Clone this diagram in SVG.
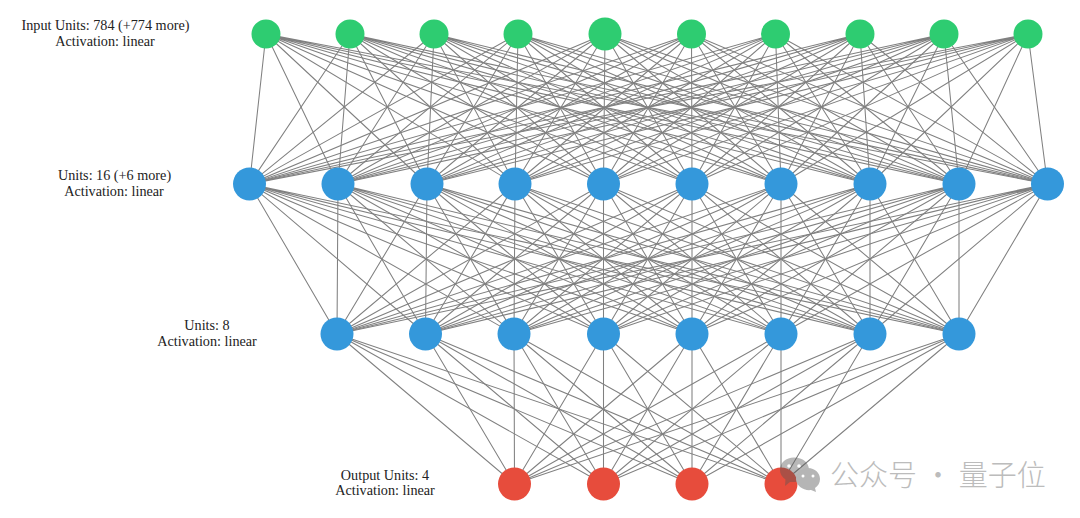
<svg xmlns="http://www.w3.org/2000/svg" width="1080" height="518" viewBox="0 0 1080 518">
<style>
.c path{fill:none;stroke:#808080;stroke-width:1.05}
.i{fill:#2ecc71}.h{fill:#3498db}.o{fill:#e74c3c}
text.l{font-family:"Liberation Serif","Times New Roman",serif;font-size:14.2px;fill:#222;text-anchor:middle}
text.w{font-family:"Noto Sans CJK SC",sans-serif;font-size:29px;font-weight:300;fill:#bcbcbc}
</style>
<rect width="1080" height="518" fill="#fff"/>
<g id="connectors" class="c">
<path d="M266 34L249.500 184M266 34L338 184M266 34L427 184M266 34L515 184M266 34L603.500 184M266 34L692 184M266 34L781 184M266 34L870 184M266 34L959 184M266 34L1047.500 184"/>
<path d="M350 34L249.500 184M350 34L338 184M350 34L427 184M350 34L515 184M350 34L603.500 184M350 34L692 184M350 34L781 184M350 34L870 184M350 34L959 184M350 34L1047.500 184"/>
<path d="M434 34L249.500 184M434 34L338 184M434 34L427 184M434 34L515 184M434 34L603.500 184M434 34L692 184M434 34L781 184M434 34L870 184M434 34L959 184M434 34L1047.500 184"/>
<path d="M518 34L249.500 184M518 34L338 184M518 34L427 184M518 34L515 184M518 34L603.500 184M518 34L692 184M518 34L781 184M518 34L870 184M518 34L959 184M518 34L1047.500 184"/>
<path d="M605 34L249.500 184M605 34L338 184M605 34L427 184M605 34L515 184M605 34L603.500 184M605 34L692 184M605 34L781 184M605 34L870 184M605 34L959 184M605 34L1047.500 184"/>
<path d="M691.500 34L249.500 184M691.500 34L338 184M691.500 34L427 184M691.500 34L515 184M691.500 34L603.500 184M691.500 34L692 184M691.500 34L781 184M691.500 34L870 184M691.500 34L959 184M691.500 34L1047.500 184"/>
<path d="M775.500 34L249.500 184M775.500 34L338 184M775.500 34L427 184M775.500 34L515 184M775.500 34L603.500 184M775.500 34L692 184M775.500 34L781 184M775.500 34L870 184M775.500 34L959 184M775.500 34L1047.500 184"/>
<path d="M860 34L249.500 184M860 34L338 184M860 34L427 184M860 34L515 184M860 34L603.500 184M860 34L692 184M860 34L781 184M860 34L870 184M860 34L959 184M860 34L1047.500 184"/>
<path d="M944 34L249.500 184M944 34L338 184M944 34L427 184M944 34L515 184M944 34L603.500 184M944 34L692 184M944 34L781 184M944 34L870 184M944 34L959 184M944 34L1047.500 184"/>
<path d="M1028 34L249.500 184M1028 34L338 184M1028 34L427 184M1028 34L515 184M1028 34L603.500 184M1028 34L692 184M1028 34L781 184M1028 34L870 184M1028 34L959 184M1028 34L1047.500 184"/>
<path d="M249.500 184L337 334M249.500 184L425.500 334M249.500 184L514 334M249.500 184L603.500 334M249.500 184L692 334M249.500 184L781 334M249.500 184L870 334M249.500 184L959 334"/>
<path d="M338 184L337 334M338 184L425.500 334M338 184L514 334M338 184L603.500 334M338 184L692 334M338 184L781 334M338 184L870 334M338 184L959 334"/>
<path d="M427 184L337 334M427 184L425.500 334M427 184L514 334M427 184L603.500 334M427 184L692 334M427 184L781 334M427 184L870 334M427 184L959 334"/>
<path d="M515 184L337 334M515 184L425.500 334M515 184L514 334M515 184L603.500 334M515 184L692 334M515 184L781 334M515 184L870 334M515 184L959 334"/>
<path d="M603.500 184L337 334M603.500 184L425.500 334M603.500 184L514 334M603.500 184L603.500 334M603.500 184L692 334M603.500 184L781 334M603.500 184L870 334M603.500 184L959 334"/>
<path d="M692 184L337 334M692 184L425.500 334M692 184L514 334M692 184L603.500 334M692 184L692 334M692 184L781 334M692 184L870 334M692 184L959 334"/>
<path d="M781 184L337 334M781 184L425.500 334M781 184L514 334M781 184L603.500 334M781 184L692 334M781 184L781 334M781 184L870 334M781 184L959 334"/>
<path d="M870 184L337 334M870 184L425.500 334M870 184L514 334M870 184L603.500 334M870 184L692 334M870 184L781 334M870 184L870 334M870 184L959 334"/>
<path d="M959 184L337 334M959 184L425.500 334M959 184L514 334M959 184L603.500 334M959 184L692 334M959 184L781 334M959 184L870 334M959 184L959 334"/>
<path d="M1047.500 184L337 334M1047.500 184L425.500 334M1047.500 184L514 334M1047.500 184L603.500 334M1047.500 184L692 334M1047.500 184L781 334M1047.500 184L870 334M1047.500 184L959 334"/>
<path d="M337 334L514.500 484M337 334L603.500 484M337 334L692 484M337 334L781 484"/>
<path d="M425.500 334L514.500 484M425.500 334L603.500 484M425.500 334L692 484M425.500 334L781 484"/>
<path d="M514 334L514.500 484M514 334L603.500 484M514 334L692 484M514 334L781 484"/>
<path d="M603.500 334L514.500 484M603.500 334L603.500 484M603.500 334L692 484M603.500 334L781 484"/>
<path d="M692 334L514.500 484M692 334L603.500 484M692 334L692 484M692 334L781 484"/>
<path d="M781 334L514.500 484M781 334L603.500 484M781 334L692 484M781 334L781 484"/>
<path d="M870 334L514.500 484M870 334L603.500 484M870 334L692 484M870 334L781 484"/>
<path d="M959 334L514.500 484M959 334L603.500 484M959 334L692 484M959 334L781 484"/>
</g>
<g id="input-nodes">
<g id="in1"><circle class="i" cx="266" cy="34" r="14.500"/></g>
<g id="in2"><circle class="i" cx="350" cy="34" r="14.500"/></g>
<g id="in3"><circle class="i" cx="434" cy="34" r="14.500"/></g>
<g id="in4"><circle class="i" cx="518" cy="34" r="14.500"/></g>
<g id="in5"><circle class="i" cx="605" cy="34" r="16.500"/></g>
<g id="in6"><circle class="i" cx="691.500" cy="34" r="14.500"/></g>
<g id="in7"><circle class="i" cx="775.500" cy="34" r="14.500"/></g>
<g id="in8"><circle class="i" cx="860" cy="34" r="14.500"/></g>
<g id="in9"><circle class="i" cx="944" cy="34" r="14.500"/></g>
<g id="in10"><circle class="i" cx="1028" cy="34" r="14.500"/></g>
</g>
<g id="hidden1-nodes">
<g id="a1"><circle class="h" cx="249.500" cy="184" r="16.500"/></g>
<g id="a2"><circle class="h" cx="338" cy="184" r="16.500"/></g>
<g id="a3"><circle class="h" cx="427" cy="184" r="16.500"/></g>
<g id="a4"><circle class="h" cx="515" cy="184" r="16.500"/></g>
<g id="a5"><circle class="h" cx="603.500" cy="184" r="16.500"/></g>
<g id="a6"><circle class="h" cx="692" cy="184" r="16.500"/></g>
<g id="a7"><circle class="h" cx="781" cy="184" r="16.500"/></g>
<g id="a8"><circle class="h" cx="870" cy="184" r="16.500"/></g>
<g id="a9"><circle class="h" cx="959" cy="184" r="16.500"/></g>
<g id="a10"><circle class="h" cx="1047.500" cy="184" r="16.500"/></g>
</g>
<g id="hidden2-nodes">
<g id="b1"><circle class="h" cx="337" cy="334" r="16.500"/></g>
<g id="b2"><circle class="h" cx="425.500" cy="334" r="16.500"/></g>
<g id="b3"><circle class="h" cx="514" cy="334" r="16.500"/></g>
<g id="b4"><circle class="h" cx="603.500" cy="334" r="16.500"/></g>
<g id="b5"><circle class="h" cx="692" cy="334" r="16.500"/></g>
<g id="b6"><circle class="h" cx="781" cy="334" r="16.500"/></g>
<g id="b7"><circle class="h" cx="870" cy="334" r="16.500"/></g>
<g id="b8"><circle class="h" cx="959" cy="334" r="16.500"/></g>
</g>
<g id="output-nodes">
<g id="o1"><circle class="o" cx="514.500" cy="484" r="16.500"/></g>
<g id="o2"><circle class="o" cx="603.500" cy="484" r="16.500"/></g>
<g id="o3"><circle class="o" cx="692" cy="484" r="16.500"/></g>
<g id="o4"><circle class="o" cx="781" cy="484" r="16.500"/></g>
</g>
<g id="labels">
<text class="l" x="105.500" y="30">Input Units: 784 (+774 more)</text>
<text class="l" x="105" y="46">Activation: linear</text>
<text class="l" x="114.500" y="180">Units: 16 (+6 more)</text>
<text class="l" x="114" y="196">Activation: linear</text>
<text class="l" x="207" y="330">Units: 8</text>
<text class="l" x="207" y="346">Activation: linear</text>
<text class="l" x="385" y="479.500">Output Units: 4</text>
<text class="l" x="385" y="495">Activation: linear</text>
</g>
<g id="watermark">
<path d="M794 457.500C803 457.500 809 462.500 809 470C809 477 803 482 795 482L790 482L785 486L785.500 479.500C782 477 780 474 780 470C780 462.500 786 457.500 794 457.500Z" fill="#555" fill-opacity=".42"/>
<path d="M808 468C815 468 820 473 820 479C820 483 818 486 815 488L816 492L811 490C804 491 796 486 796 479C796 473 801 468 808 468Z" fill="#b5b5b5"/>
<circle cx="789" cy="466" r="1.800" fill="#fff"/><circle cx="799" cy="466" r="1.800" fill="#fff"/>
<circle cx="803" cy="476" r="1.500" fill="#fff"/><circle cx="813" cy="476" r="1.500" fill="#fff"/>
<text class="w" x="830" y="485.500">公众号 · 量子位</text>
</g>
</svg>
